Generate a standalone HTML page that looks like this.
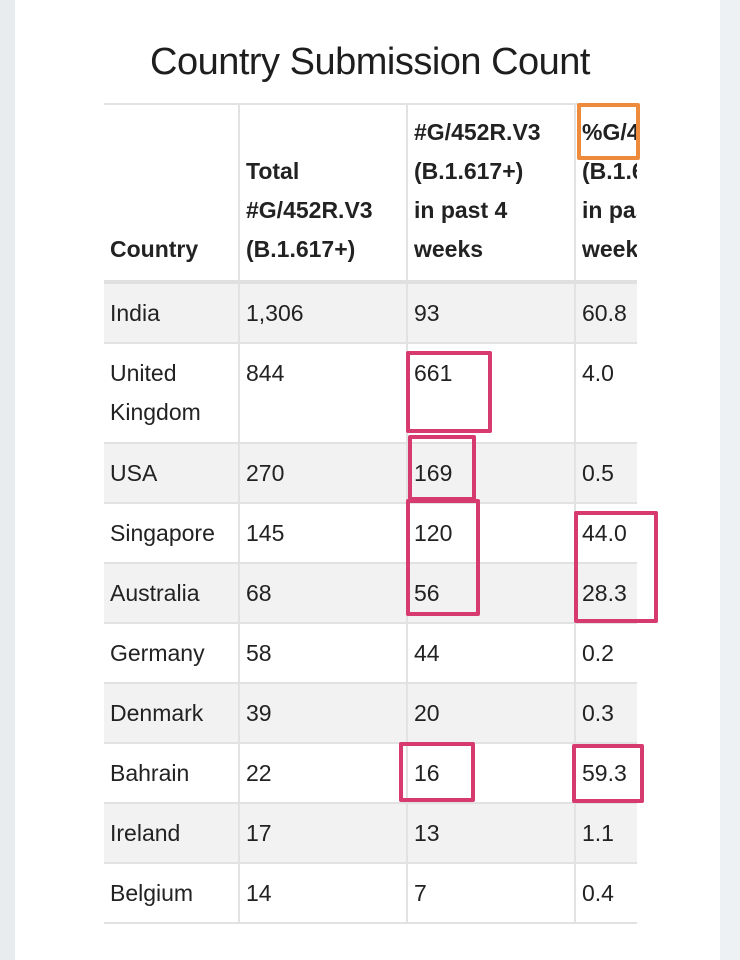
<!DOCTYPE html>
<html><head><meta charset="utf-8"><style>
*{margin:0;padding:0;box-sizing:border-box}
body{width:740px;height:960px;background:#fff;position:relative;overflow:hidden;font-family:"Liberation Sans",sans-serif;color:#222}
.ls{position:absolute;left:0;top:0;width:15px;height:960px;background:#e9ecee}
.rs{position:absolute;left:720px;top:0;width:20px;height:960px;background:#eef1f3}
.tt{position:absolute;left:0;width:740px;top:41px;text-align:center;font-size:38px;color:#1e1e1e;letter-spacing:-0.5px}
.wrap{position:absolute;left:104px;top:103px;width:533px;height:823px;overflow:hidden}
table{border-collapse:collapse;width:620px;table-layout:fixed;font-size:23px}
td,th{border-left:2px solid #e2e2e2;border-bottom:2px solid #e2e2e2;padding:10px 6px 0 6px;vertical-align:top;text-align:left;line-height:39px;white-space:nowrap;overflow:hidden}
td:first-child,th:first-child{border-left:none}
th{font-weight:bold;vertical-align:bottom;padding-top:8px;padding-bottom:11px;border-bottom:4px solid #e0e0e0;line-height:39px}
tr.g td{background:#f2f2f2}
thead tr{border-top:2px solid #e2e2e2}
.box{position:absolute;border:4px solid #d63a6e;border-radius:2px}
</style></head><body>
<div class="ls"></div><div class="rs"></div>
<div class="tt">Country Submission Count</div>
<div class="wrap"><table>
<colgroup><col style="width:135px"><col style="width:168px"><col style="width:168px"><col style="width:149px"></colgroup>
<thead><tr><th>Country</th><th>Total<br>#G/452R.V3<br>(B.1.617+)</th><th>#G/452R.V3<br>(B.1.617+)<br>in past 4<br>weeks</th><th>%G/452R.V3<br>(B.1.617+)<br>in past 4<br>weeks</th></tr></thead>
<tbody>
<tr class="g" style="height:61px"><td>India</td><td>1,306</td><td>93</td><td>60.8</td></tr>
<tr style="height:100px"><td>United<br>Kingdom</td><td>844</td><td>661</td><td>4.0</td></tr>
<tr class="g" style="height:60px"><td>USA</td><td>270</td><td>169</td><td>0.5</td></tr>
<tr style="height:60px"><td>Singapore</td><td>145</td><td>120</td><td>44.0</td></tr>
<tr class="g" style="height:60px"><td>Australia</td><td>68</td><td>56</td><td>28.3</td></tr>
<tr style="height:60px"><td>Germany</td><td>58</td><td>44</td><td>0.2</td></tr>
<tr class="g" style="height:60px"><td>Denmark</td><td>39</td><td>20</td><td>0.3</td></tr>
<tr style="height:60px"><td>Bahrain</td><td>22</td><td>16</td><td>59.3</td></tr>
<tr class="g" style="height:60px"><td>Ireland</td><td>17</td><td>13</td><td>1.1</td></tr>
<tr style="height:60px"><td>Belgium</td><td>14</td><td>7</td><td>0.4</td></tr>
</tbody></table></div>
<div class="box" style="left:577px;top:103px;width:63px;height:57px;border-color:#ee8a3c"></div>
<div class="box" style="left:406px;top:351px;width:86px;height:82px"></div>
<div class="box" style="left:408px;top:435px;width:68px;height:66px"></div>
<div class="box" style="left:406px;top:499px;width:74px;height:117px"></div>
<div class="box" style="left:574px;top:511px;width:84px;height:112px"></div>
<div class="box" style="left:399px;top:742px;width:76px;height:60px"></div>
<div class="box" style="left:572px;top:744px;width:72px;height:59px"></div>
</body></html>
